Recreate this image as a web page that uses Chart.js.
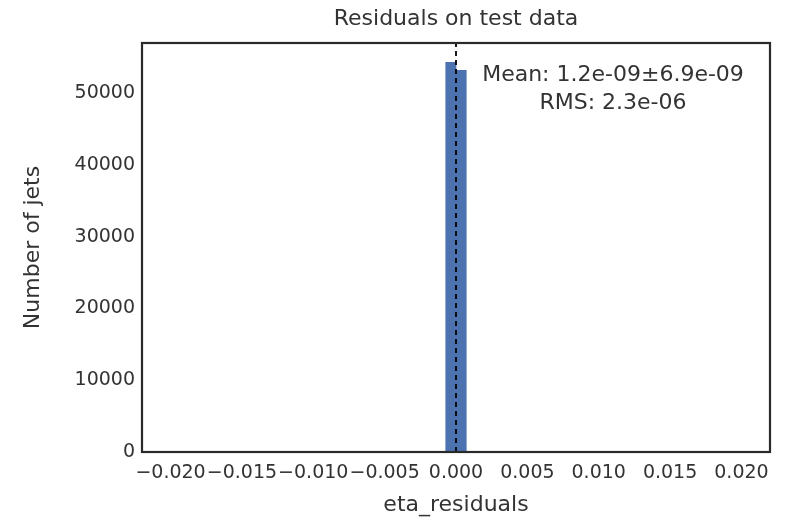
<!DOCTYPE html>
<html>
<head>
<meta charset="utf-8">
<script src="https://cdn.jsdelivr.net/npm/chart.js@4.4.0/dist/chart.umd.min.js"></script>
<style>
  html, body { margin: 0; padding: 0; background: #fff; }
</style>
</head>
<body>
<canvas id="histChart" width="790" height="521"></canvas>
<script>
// histogram data (only two non-empty bins around 0)
const binCenters = [-0.00036, 0.00036];
const binCounts = [54300, 53200];
const meanValue = 0;
const xTicks = [-0.02, -0.015, -0.01, -0.005, 0, 0.005, 0.01, 0.015, 0.02];
const yTicks = [0, 10000, 20000, 30000, 40000, 50000];
const xRange = [-0.022, 0.022];
const yRange = [0, 57000];
const titleText = 'Residuals on test data';
const statsText = ['Mean: 1.2e-09\u00b16.9e-09', 'RMS: 2.3e-06'];

const textColour = '#333333';
const barColour = '#4c72b0';
const fontFamily = '"DejaVu Sans", sans-serif';

function formatX(v) {
    const s = Math.abs(v).toFixed(3);
    return (v < -1e-12 ? '\u2212' : '') + s;
}

// frame, title and the stats box
const decorations = {
    id: 'decorations',
    afterDraw(chart) {
        const {ctx, chartArea: a, scales} = chart;
        ctx.save();
        ctx.strokeStyle = '#2a2a2a';
        ctx.lineWidth = 2.2;
        ctx.strokeRect(a.left, a.top, a.right - a.left, a.bottom - a.top);

        ctx.fillStyle = textColour;
        ctx.textAlign = 'center';
        ctx.textBaseline = 'middle';
        ctx.font = '22px ' + fontFamily;
        ctx.fillText(titleText, (a.left + a.right) / 2, a.top - 24);

        const sx = scales.x.getPixelForValue(0.011);
        ctx.fillText(statsText[0], sx, scales.y.getPixelForValue(52500));
        ctx.fillText(statsText[1], sx, scales.y.getPixelForValue(48600));
        ctx.restore();
    }
};

const ctx = document.getElementById('histChart').getContext('2d');

new Chart(ctx, {
    type: 'bar',
    data: {
        datasets: [
            {
                type: 'line',
                data: [{x: meanValue, y: yRange[0]}, {x: meanValue, y: yRange[1]}],
                borderColor: '#000',
                borderWidth: 1.8,
                borderDash: [5, 4],
                pointRadius: 0,
                order: 0
            },
            {
                data: binCenters.map((c, i) => ({x: c, y: binCounts[i]})),
                backgroundColor: barColour,
                borderWidth: 0,
                barPercentage: 1,
                categoryPercentage: 1,
                order: 1
            }
        ]
    },
    options: {
        responsive: false,
        animation: false,
        devicePixelRatio: 1,
        layout: {
            padding: {top: 43, right: 20, left: 0, bottom: 0}
        },
        plugins: {
            legend: {display: false},
            tooltip: {enabled: false}
        },
        scales: {
            x: {
                type: 'linear',
                min: xRange[0],
                max: xRange[1],
                offset: false,
                grid: {display: false, drawTicks: false},
                border: {display: false},
                afterBuildTicks: scale => {
                    scale.ticks = xTicks.map(v => ({value: v}));
                },
                afterFit: scale => {
                    scale.height = 69;
                },
                ticks: {
                    autoSkip: false,
                    maxRotation: 0,
                    padding: 10,
                    color: textColour,
                    font: {family: fontFamily, size: 19},
                    callback: v => formatX(v)
                },
                title: {
                    display: true,
                    text: 'eta_residuals',
                    color: textColour,
                    font: {family: fontFamily, size: 22},
                    padding: {top: 0, bottom: 3}
                }
            },
            y: {
                min: yRange[0],
                max: yRange[1],
                grid: {display: false, drawTicks: false},
                border: {display: false},
                afterBuildTicks: scale => {
                    scale.ticks = yTicks.map(v => ({value: v}));
                },
                afterFit: scale => {
                    scale.width = 142;
                },
                ticks: {
                    padding: 7,
                    color: textColour,
                    font: {family: fontFamily, size: 19},
                    callback: v => String(v)
                },
                title: {
                    display: true,
                    text: 'Number of jets',
                    color: textColour,
                    font: {family: fontFamily, size: 22},
                    padding: {top: 20, bottom: 0}
                }
            }
        }
    },
    plugins: [decorations]
});
</script>
</body>
</html>
